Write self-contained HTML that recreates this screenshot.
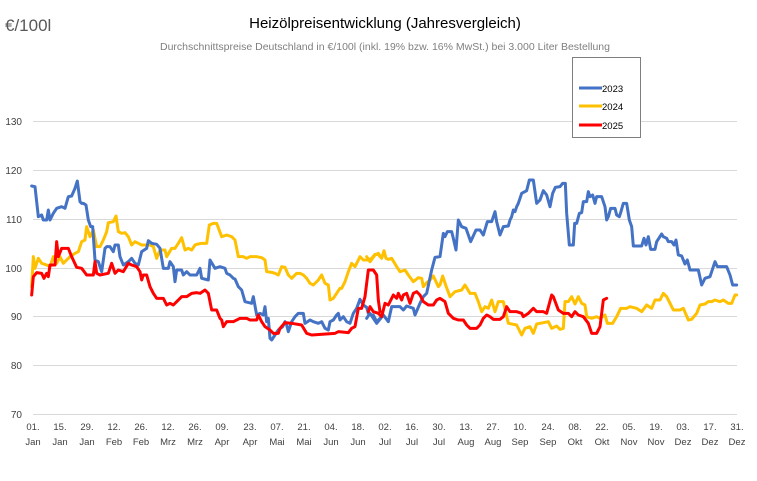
<!DOCTYPE html>
<html><head><meta charset="utf-8"><style>
body{margin:0;background:#fff;}
svg{display:block;font-family:"Liberation Sans",sans-serif;}
</style></head><body>
<svg width="757" height="481" viewBox="0 0 757 481">
<rect width="757" height="481" fill="#fff"/>
<text x="5" y="31" font-size="17" fill="#595959">€/100l</text>
<text x="385" y="28" font-size="15" text-anchor="middle" fill="#000">Heizölpreisentwicklung (Jahresvergleich)</text>
<text x="385" y="50" font-size="10.5" text-anchor="middle" fill="#7f7f7f">Durchschnittspreise Deutschland in €/100l (inkl. 19% bzw. 16%  MwSt.) bei 3.000 Liter Bestellung</text>
<g stroke="#d9d9d9" stroke-width="1">
<line x1="33" x2="737" y1="121.5" y2="121.5"/><line x1="33" x2="737" y1="170.5" y2="170.5"/><line x1="33" x2="737" y1="219.5" y2="219.5"/><line x1="33" x2="737" y1="268.5" y2="268.5"/><line x1="33" x2="737" y1="316.5" y2="316.5"/><line x1="33" x2="737" y1="365.5" y2="365.5"/><line x1="33" x2="737" y1="414.5" y2="414.5"/>
</g>
<g font-size="10" fill="#404040" text-anchor="end">
<text x="22" y="125">130</text><text x="22" y="174">120</text><text x="22" y="223">110</text><text x="22" y="272">100</text><text x="22" y="320">90</text><text x="22" y="369">80</text><text x="22" y="418">70</text>
</g>
<g font-size="9.5" fill="#404040" text-anchor="middle" id="xl"></g>
<g fill="none" stroke-linejoin="round" stroke-linecap="round">
<g transform="translate(0,160) scale(0.33333)">
<polyline vector-effect="non-scaling-stroke" stroke-width="3" stroke="#ffc000" points="95,380 100,290 105,325 115,295 125,310 140,315 150,320 160,290 170,310 180,290 190,310 200,300 210,290 225,280 235,275 245,245 255,240 260,200 270,230 280,210 290,260 300,260 310,240 320,215 325,188 340,185 348,168 355,215 365,220 375,218 385,230 395,255 405,245 415,250 425,255 435,255 450,255 460,260 470,295 480,270 495,270 500,290 515,265 525,265 535,250 545,233 555,270 565,265 575,270 585,255 595,252 605,250 620,250 628,195 640,190 650,190 665,230 680,225 695,230 705,240 715,290 730,290 740,295 750,290 770,290 785,293 795,300 800,335 815,337 825,340 835,345 845,320 855,322 865,345 875,355 890,340 900,340 910,345 920,355 930,370 940,375 955,360 965,345 975,370 985,375 990,420 1000,415 1010,400 1020,385 1025,385 1035,365 1045,335 1055,310 1065,320 1080,290 1090,300 1105,300 1115,295 1125,283 1135,283 1140,290"/>
<polyline vector-effect="non-scaling-stroke" stroke-width="3" stroke="#4472c4" points="95,78 105,80 115,170 125,165 130,180 140,180 145,150 150,180 160,160 170,145 185,140 195,145 205,110 215,108 225,85 232,63 240,125 245,130 250,130 258,135 265,180 272,200 278,200 285,300 295,305 305,335 315,265 320,260 330,260 340,275 345,255 355,255 360,290 370,315 385,305 395,295 405,310 415,315 425,275 440,265 445,242 455,250 470,253 480,265 490,325 505,325 510,305 520,320 525,365 530,330 545,330 550,345 560,335 570,345 590,345 600,325 605,355 625,360 630,300 645,325 660,320 675,325 680,340 690,345 700,355 705,357 715,380 725,390 735,425 755,430 760,410 770,465 780,460 790,465 795,440 800,485 805,475 810,535 815,540 825,525 835,510 848,500 855,485 860,495 865,515 875,485 885,470 895,460 910,460 915,490 930,480 940,485 955,490 965,485 975,505 985,510 990,485 1000,480 1010,465 1015,460 1020,480 1030,470 1040,485 1050,490 1060,460 1070,445 1080,418 1090,435 1100,442 1105,460 1115,465 1120,465 1130,485 1140,475"/>
<polyline vector-effect="non-scaling-stroke" stroke-width="3" stroke="#ff0000" points="95,405 100,350 110,338 125,340 132,355 140,340 145,350 150,315 165,315 170,245 175,290 185,265 205,265 215,290 230,322 245,325 260,345 280,345 285,305 290,340 300,345 325,340 335,310 345,340 355,330 370,335 385,310 395,315 410,320 420,335 425,360 430,345 440,345 450,380 460,400 470,415 490,415 500,435 510,430 520,435 530,425 545,410 560,410 575,400 590,398 600,400 615,390 625,400 635,450 650,450 660,475 665,480 670,500 680,485 700,485 720,475 740,475 750,480 770,480 775,465 785,485 795,500 810,510 820,520 835,520 840,505 855,488 875,490 905,495 920,520 935,525 1005,520 1015,515 1045,518 1055,505 1065,500 1075,445 1085,445 1095,410 1105,330 1120,330 1130,345 1135,420 1140,455"/>
</g>
<g transform="translate(370,160) scale(0.33333)">
<polyline vector-effect="non-scaling-stroke" stroke-width="3" stroke="#ffc000" points="-10,290 0,305 15,285 25,280 35,295 42,272 48,295 55,298 65,295 80,320 90,335 105,330 115,345 130,365 145,353 155,355 160,380 170,368 180,360 190,348 205,380 210,375 218,348 228,378 240,410 255,395 275,390 285,375 300,400 315,400 325,425 335,455 345,440 355,445 365,420 375,455 385,425 400,425 415,490 440,495 455,525 465,505 480,500 490,520 500,492 520,488 535,485 545,505 560,498 570,508 580,505 585,425 595,425 605,410 615,432 625,410 635,430 645,435 650,470 665,475 680,470 690,475 705,465 712,490 728,490 740,470 752,445 770,445 780,440 800,445 815,455 830,435 845,445 855,420 870,420 880,400 890,410 900,430 910,450 930,450 940,445 955,480 965,478 980,460 990,435 1005,432 1015,425 1025,425 1035,420 1050,425 1060,420 1075,430 1085,430 1095,405 1100,405"/>
<polyline vector-effect="non-scaling-stroke" stroke-width="3" stroke="#4472c4" points="-10,475 0,460 20,490 40,465 55,485 65,440 90,440 100,450 110,438 130,445 135,465 150,430 160,410 170,400 185,330 195,292 210,290 220,220 225,230 232,215 245,215 250,235 258,270 265,180 275,200 288,205 302,245 318,210 330,210 340,225 352,185 365,185 375,155 380,185 390,225 400,200 415,198 420,180 425,170 430,150 435,155 440,140 445,130 455,100 470,92 478,60 490,60 500,130 510,120 520,92 530,105 540,140 548,100 556,82 570,80 578,70 586,70 590,160 598,255 610,255 614,190 620,190 628,160 635,158 640,125 650,125 655,95 660,110 668,105 675,130 680,110 695,110 705,140 710,180 715,170 722,145 735,145 740,165 748,170 752,158 760,130 770,130 778,180 785,200 790,258 815,258 822,235 828,255 835,230 842,268 855,268 860,245 875,222 880,230 890,235 895,245 905,245 912,255 918,240 925,285 935,288 945,312 952,300 960,330 985,330 995,375 1005,355 1020,350 1025,335 1035,305 1042,320 1070,320 1080,345 1088,375 1100,375"/>
<polyline vector-effect="non-scaling-stroke" stroke-width="3" stroke="#ff0000" points="-5,455 0,440 10,455 25,460 35,470 45,430 55,435 70,405 80,415 85,400 95,420 100,405 110,400 120,430 130,400 140,395 150,405 160,425 175,435 190,435 200,420 210,415 225,425 235,460 250,475 265,480 280,480 290,495 300,505 320,505 330,495 340,475 350,465 360,470 370,478 390,478 400,470 410,440 420,455 440,455 455,460 460,470 475,460 490,445 500,455 520,455 530,460 545,405 550,410 565,450 580,460 595,460 605,470 615,455 625,465 640,470 655,490 665,520 680,520 690,500 700,420 710,415"/>
</g>
</g>
<rect x="572.5" y="57.5" width="68" height="80" fill="#fff" stroke="#7f7f7f" stroke-width="1"/>
<g stroke-width="3"><line x1="579" x2="602" y1="88" y2="88" stroke="#4472c4"/><line x1="579" x2="602" y1="106" y2="106" stroke="#ffc000"/><line x1="579" x2="602" y1="125" y2="125" stroke="#ff0000"/></g>
<g font-size="9.5" fill="#000"><text x="602" y="92">2023</text><text x="602" y="110">2024</text><text x="602" y="129">2025</text></g>
<g font-size="9.5" fill="#404040" text-anchor="middle">
<text x="33" y="430">01.</text><text x="33" y="445">Jan</text>
<text x="60" y="430">15.</text><text x="60" y="445">Jan</text>
<text x="87" y="430">29.</text><text x="87" y="445">Jan</text>
<text x="114" y="430">12.</text><text x="114" y="445">Feb</text>
<text x="141" y="430">26.</text><text x="141" y="445">Feb</text>
<text x="168" y="430">12.</text><text x="168" y="445">Mrz</text>
<text x="195" y="430">26.</text><text x="195" y="445">Mrz</text>
<text x="222" y="430">09.</text><text x="222" y="445">Apr</text>
<text x="250" y="430">23.</text><text x="250" y="445">Apr</text>
<text x="277" y="430">07.</text><text x="277" y="445">Mai</text>
<text x="304" y="430">21.</text><text x="304" y="445">Mai</text>
<text x="331" y="430">04.</text><text x="331" y="445">Jun</text>
<text x="358" y="430">18.</text><text x="358" y="445">Jun</text>
<text x="385" y="430">02.</text><text x="385" y="445">Jul</text>
<text x="412" y="430">16.</text><text x="412" y="445">Jul</text>
<text x="439" y="430">30.</text><text x="439" y="445">Jul</text>
<text x="466" y="430">13.</text><text x="466" y="445">Aug</text>
<text x="493" y="430">27.</text><text x="493" y="445">Aug</text>
<text x="520" y="430">10.</text><text x="520" y="445">Sep</text>
<text x="548" y="430">24.</text><text x="548" y="445">Sep</text>
<text x="575" y="430">08.</text><text x="575" y="445">Okt</text>
<text x="602" y="430">22.</text><text x="602" y="445">Okt</text>
<text x="629" y="430">05.</text><text x="629" y="445">Nov</text>
<text x="656" y="430">19.</text><text x="656" y="445">Nov</text>
<text x="683" y="430">03.</text><text x="683" y="445">Dez</text>
<text x="710" y="430">17.</text><text x="710" y="445">Dez</text>
<text x="737" y="430">31.</text><text x="737" y="445">Dez</text>
</g>
</svg>
</body></html>
